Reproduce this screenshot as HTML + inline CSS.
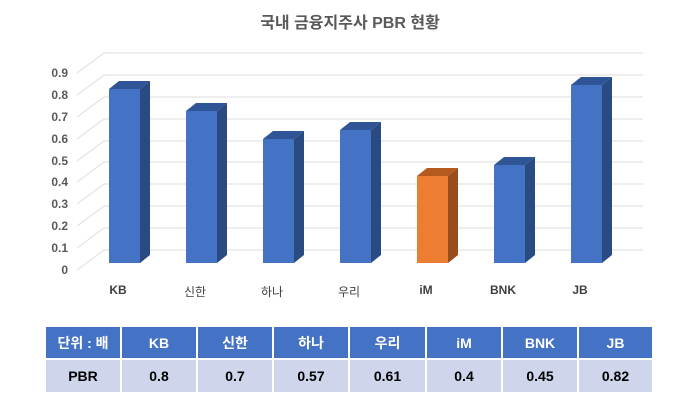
<!DOCTYPE html>
<html><head><meta charset="utf-8"><style>
html,body{margin:0;padding:0;background:#fff;}
body{width:680px;height:406px;overflow:hidden;position:relative;font-family:"Liberation Sans","Noto Sans CJK KR",sans-serif;}
svg{position:absolute;left:0;top:0;}
table{position:absolute;left:44px;top:325px;border-collapse:collapse;}
td{border:2px solid #fff;text-align:center;font-weight:bold;font-size:14px;padding:0;}
tr.h td{background:#4472C4;color:#fff;height:31px;}
tr.d td{background:#CFD5EA;color:#000;height:32px;}
</style></head><body>
<svg width="680" height="406" xmlns="http://www.w3.org/2000/svg" font-family="Liberation Sans, Noto Sans CJK KR, sans-serif">
<text x="350" y="28" text-anchor="middle" font-size="16" font-weight="bold" fill="#595959">국내 금융지주사 PBR 현황</text>
<g stroke="#e3e3e3" stroke-width="1.2" fill="none">
<path d="M77 73L104 53H643"/>
<path d="M77 95L104 75H643"/>
<path d="M77 117L104 97H643"/>
<path d="M77 139L104 119H643"/>
<path d="M77 161L104 141H643"/>
<path d="M77 182L104 162H643"/>
<path d="M77 204L104 184H643"/>
<path d="M77 226L104 206H643"/>
<path d="M77 248L104 228H643"/>
<path d="M77 270L104 250H643"/>
</g>
<g font-size="12" font-weight="bold" fill="#595959" text-anchor="end">
<text x="68" y="77">0.9</text><text x="68" y="99">0.8</text><text x="68" y="121">0.7</text><text x="68" y="143">0.6</text><text x="68" y="165">0.5</text><text x="68" y="186">0.4</text><text x="68" y="208">0.3</text><text x="68" y="230">0.2</text><text x="68" y="252">0.1</text><text x="68" y="274">0</text>
</g>
<g font-size="12" font-weight="bold" fill="#404040" text-anchor="middle">
<text x="118" y="294">KB</text><text x="195" y="296" font-weight="normal">신한</text><text x="272" y="296" font-weight="normal">하나</text><text x="349" y="296" font-weight="normal">우리</text><text x="426" y="294">iM</text><text x="503" y="294">BNK</text><text x="580" y="294">JB</text>
</g>
<g>
<polygon points="109,89 119,81 150,81 140,89" fill="#2F5597"/><polygon points="140,89 150,81 150,255 140,263" fill="#2A4A82"/><rect x="109" y="89" width="31" height="174" fill="#4472C4"/>
<polygon points="186,111 196,103 227,103 217,111" fill="#2F5597"/><polygon points="217,111 227,103 227,255 217,263" fill="#2A4A82"/><rect x="186" y="111" width="31" height="152" fill="#4472C4"/>
<polygon points="263,139 273,131 304,131 294,139" fill="#2F5597"/><polygon points="294,139 304,131 304,255 294,263" fill="#2A4A82"/><rect x="263" y="139" width="31" height="124" fill="#4472C4"/>
<polygon points="340,130 350,122 381,122 371,130" fill="#2F5597"/><polygon points="371,130 381,122 381,255 371,263" fill="#2A4A82"/><rect x="340" y="130" width="31" height="133" fill="#4472C4"/>
<polygon points="417,176 427,168 458,168 448,176" fill="#B45A1E"/><polygon points="448,176 458,168 458,255 448,263" fill="#9A4D1C"/><rect x="417" y="176" width="31" height="87" fill="#ED7D31"/>
<polygon points="494,165 504,157 535,157 525,165" fill="#2F5597"/><polygon points="525,165 535,157 535,255 525,263" fill="#2A4A82"/><rect x="494" y="165" width="31" height="98" fill="#4472C4"/>
<polygon points="571,85 581,77 612,77 602,85" fill="#2F5597"/><polygon points="602,85 612,77 612,255 602,263" fill="#2A4A82"/><rect x="571" y="85" width="31" height="178" fill="#4472C4"/>
</g>
</svg>
<table>
<tr class="h"><td style="width:74px">단위 : 배</td><td style="width:74px">KB</td><td style="width:74px">신한</td><td style="width:74px">하나</td><td style="width:75px">우리</td><td style="width:74px">iM</td><td style="width:74px">BNK</td><td style="width:73px">JB</td></tr>
<tr class="d"><td>PBR</td><td>0.8</td><td>0.7</td><td>0.57</td><td>0.61</td><td>0.4</td><td>0.45</td><td>0.82</td></tr>
</table>
</body></html>
